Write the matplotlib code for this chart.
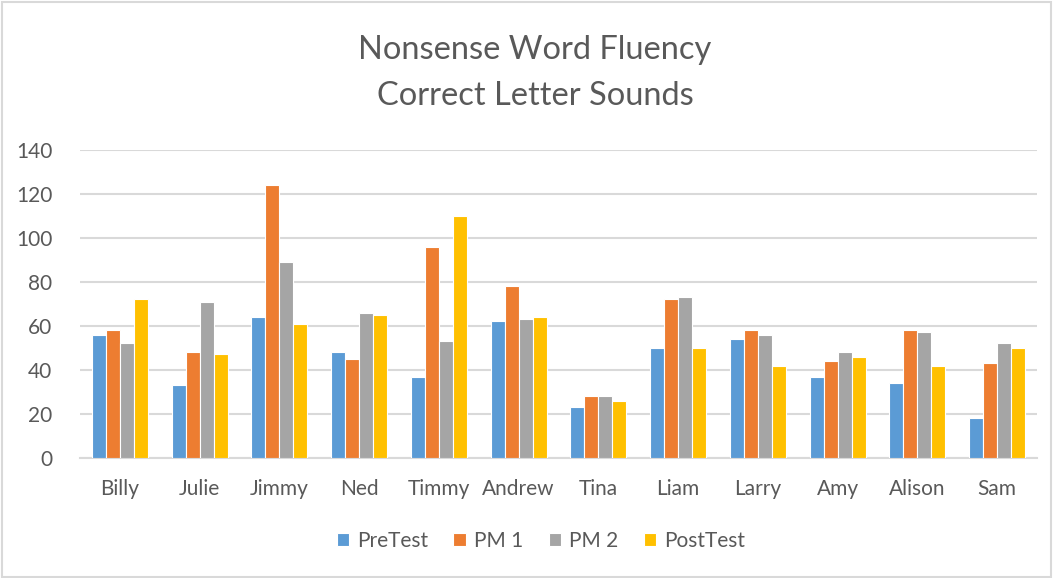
import matplotlib
matplotlib.use("Agg")
import matplotlib.pyplot as plt
import numpy as np
from matplotlib.patches import Rectangle

students = ["Billy", "Julie", "Jimmy", "Ned", "Timmy", "Andrew", "Tina", "Liam", "Larry", "Amy", "Alison", "Sam"]
pretest = [56, 33, 64, 48, 37, 62, 23, 50, 54, 37, 34, 18]
pm1 = [58, 48, 124, 45, 96, 78, 28, 72, 58, 44, 58, 43]
pm2 = [52, 71, 89, 66, 53, 63, 28, 73, 56, 48, 57, 52]
posttest = [72, 47, 61, 65, 110, 64, 26, 50, 42, 46, 42, 50]
series_names = ["PreTest", "PM 1", "PM 2", "PostTest"]
colors = ["#5B9BD5", "#ED7D31", "#A5A5A5", "#FFC000"]
yticks = [0, 20, 40, 60, 80, 100, 120, 140]

plt.rcParams['font.family'] = ['Lato', 'DejaVu Sans']

fig = plt.figure(figsize=(10.55, 5.78), dpi=100)
ax = fig.add_axes([80/1055, 1-458/578, (1037-80)/1055, (458-149.7)/578])

x = np.arange(len(students))
w = 0.175
data = [pretest, pm1, pm2, posttest]
for i, (vals, name, c) in enumerate(zip(data, series_names, colors)):
    ax.bar(x + (i - 1.5) * w, vals, width=w, color=c, label=name,
           edgecolor="white", linewidth=0.8, zorder=3)

ax.set_xlim(-0.5, len(students) - 0.5)
ax.set_ylim(0, 140)
ax.set_yticks(yticks)
ax.set_xticks(x)
ax.set_xticklabels(students)
ax.tick_params(axis='both', length=0, labelsize=15, labelcolor="#595959")
ax.tick_params(axis='x', pad=15)
ax.tick_params(axis='y', pad=20)
ax.yaxis.grid(True, color="#D9D9D9", linewidth=1.5, zorder=0)
for s in ["top", "right", "left"]:
    ax.spines[s].set_visible(False)
ax.spines["bottom"].set_color("#D9D9D9")
ax.spines["bottom"].set_linewidth(1.5)

fig.text(535/1055, 1-50/578, "Nonsense Word Fluency", ha="center", va="center",
         fontsize=23.5, color="#595959")
fig.text(535/1055, 1-96/578, "Correct Letter Sounds", ha="center", va="center",
         fontsize=23.5, color="#595959")

leg = fig.legend(loc="center", bbox_to_anchor=(541/1055, 1-541/578), ncol=4,
                 frameon=False, fontsize=15, handlelength=0.6, handleheight=0.6,
                 handletextpad=0.4, columnspacing=1.2)
for t in leg.get_texts():
    t.set_color("#595959")

fig.patches.append(Rectangle((0.002, 0.002), 0.994, 0.994, transform=fig.transFigure,
                             fill=False, edgecolor="#D9D9D9", linewidth=1.5))

fig.savefig("out.png", dpi=100)
